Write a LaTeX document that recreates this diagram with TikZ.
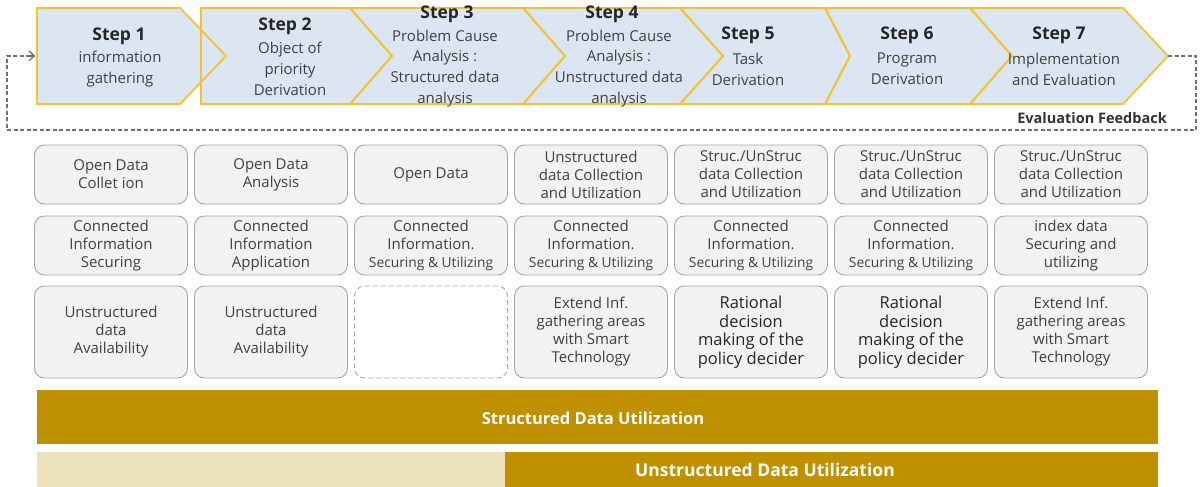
\documentclass[tikz,border=0pt]{standalone}
\usepackage{fontspec}
\setmainfont{Open Sans}
\usetikzlibrary{arrows.meta}
\definecolor{chevfill}{HTML}{DCE6F2}
\definecolor{chevline}{HTML}{F2C230}
\definecolor{cellfill}{HTML}{F2F2F2}
\definecolor{cellline}{HTML}{A6A6A6}
\definecolor{goldbar}{HTML}{BF9000}
\definecolor{beigebar}{HTML}{EDE1BC}
\definecolor{txt}{HTML}{404040}
\definecolor{fbgray}{HTML}{707070}
\tikzset{
  steptitle/.style={font=\fontsize{17.5}{18}\selectfont\bfseries, text=black!85, inner sep=0pt},
  stepbody/.style={font=\fontsize{15}{20.8}\selectfont, text=txt, align=center, inner sep=0pt},
  cell/.style={draw=cellline, fill=cellfill, rounded corners=10pt, line width=0.9pt,
    minimum width=153pt, minimum height=59pt, align=center, text=txt,
    font=\fontsize{15}{18}\selectfont, inner sep=0pt},
  tallcell/.style={cell, minimum height=92pt},
  emptycell/.style={tallcell, fill=white, dashed, dash pattern=on 5pt off 3pt},
  rational/.style={tallcell, text=black!85, font=\fontsize{16.5}{18.5}\selectfont},
  fbline/.style={draw=fbgray, line width=1.3pt, dash pattern=on 4pt off 2.5pt},
  bartext/.style={text=white, font=\fontsize{16.5}{18}\selectfont\bfseries, inner sep=0pt},
}
\newcommand{\smallsu}{{\fontsize{13.8}{18}\selectfont Securing \& Utilizing}}
\begin{document}
\begin{tikzpicture}[x=1pt,y=-1pt]
\useasboundingbox (0,0) rectangle (1203,487);
\fill[white] (0,0) rectangle (1203,487);
% chevrons
\foreach \xl/\dl/\xs/\xt in {37/0/180/226, 201/0/350/392, 350/42/523/565, 523/42/680/723, 680/43/825/850, 825/25/970/1012, 970/42/1123/1168}
  {\fill[chevfill] (\xl,8) -- (\xs,8) -- (\xt,56) -- (\xs,104) -- (\xl,104) -- ({\xl+\dl},56) -- cycle;}
\foreach \xl/\dl/\xs/\xt in {37/0/180/226, 201/0/350/392, 350/42/523/565, 523/42/680/723, 680/43/825/850, 825/25/970/1012, 970/42/1123/1168}
  {\draw[chevline, line width=1.8pt, line join=miter] (\xl,8) -- (\xs,8) -- (\xt,56) -- (\xs,104) -- (\xl,104) -- ({\xl+\dl},56) -- cycle;}
% step texts
\node[steptitle] (t1) at (119,36) {Step 1};
\node[stepbody] (b1) at (120,69) {information\\gathering};
\node[steptitle] (t2) at (285,26) {Step 2};
\node[stepbody] (b2) at (290,69) {Object of\\priority\\Derivation};
\node[steptitle] (t3) at (447,14) {Step 3};
\node[stepbody] (b3) at (445,68.5) {Problem Cause\\Analysis :\\Structured data\\analysis};
\node[steptitle] (t4) at (612,14) {Step 4};
\node[stepbody] (b4) at (619,68.5) {Problem Cause\\Analysis :\\Unstructured data\\analysis};
\node[steptitle] (t5) at (748,35) {Step 5};
\node[stepbody] (b5) at (748,69) {Task\\Derivation};
\node[steptitle] (t6) at (907,35) {Step 6};
\node[stepbody] (b6) at (907,69) {Program\\Derivation};
\node[steptitle] (t7) at (1059,35) {Step 7};
\node[stepbody] (b7) at (1064,69) {Implementation\\and Evaluation};
% feedback loop
\coordinate (s7tip) at (1168,56);
\coordinate (fbBR) at (1196,130);
\coordinate (fbBL) at (7,130);
\coordinate (s1left) at (35,56);
\draw[fbline] (s7tip) -| (fbBR) -- (fbBL) -- (fbBL |- s1left) -- (s1left);
\draw[fbgray, line width=1.3pt, -{Straight Barb[length=5pt,width=10pt]}] (27,56) -- (s1left);
\node[font=\fontsize{14.5}{16}\selectfont\bfseries, text=black!80, anchor=east, inner sep=0pt] (fblabel) at (1167,118) {Evaluation Feedback};
% grid cells
\node[cell] (c11) at (111,174.5) {Open Data\\Collet ion};
\node[cell] (c12) at (271,174.5) {Open Data\\Analysis};
\node[cell] (c13) at (431,174.5) {Open Data};
\node[cell] (c14) at (591,174.5) {Unstructured\\data Collection\\and Utilization};
\node[cell] (c15) at (751,174.5) {Struc./UnStruc\\data Collection\\and Utilization};
\node[cell] (c16) at (911,174.5) {Struc./UnStruc\\data Collection\\and Utilization};
\node[cell] (c17) at (1071,174.5) {Struc./UnStruc\\data Collection\\and Utilization};
\node[cell] (c21) at (111,245.5) {Connected\\Information\\Securing};
\node[cell] (c22) at (271,245.5) {Connected\\Information\\Application};
\node[cell] (c23) at (431,245.5) {Connected\\Information.\\\smallsu};
\node[cell] (c24) at (591,245.5) {Connected\\Information.\\\smallsu};
\node[cell] (c25) at (751,245.5) {Connected\\Information.\\\smallsu};
\node[cell] (c26) at (911,245.5) {Connected\\Information.\\\smallsu};
\node[cell] (c27) at (1071,245.5) {index data\\Securing and\\utilizing};
\node[tallcell] (c31) at (111,332) {Unstructured\\data\\Availability};
\node[tallcell] (c32) at (271,332) {Unstructured\\data\\Availability};
\node[emptycell] (c33) at (431,332) {};
\node[tallcell] (c34) at (591,332) {Extend Inf.\\gathering areas\\with Smart\\Technology};
\node[rational] (c35) at (751,332) {Rational\\decision\\making of the\\policy decider};
\node[rational] (c36) at (911,332) {Rational\\decision\\making of the\\policy decider};
\node[tallcell] (c37) at (1071,332) {Extend Inf.\\gathering areas\\with Smart\\Technology};
% bars
\fill[goldbar] (37,390) rectangle (1158,444);
\fill[beigebar] (37,452) rectangle (505,487);
\fill[goldbar] (505,452) rectangle (1158,487);
\node[bartext] (sdu) at (593,418) {Structured Data Utilization};
\node[bartext, font=\fontsize{17.5}{19}\selectfont\bfseries] (udu) at (765,470) {Unstructured Data Utilization};
\end{tikzpicture}
\end{document}
